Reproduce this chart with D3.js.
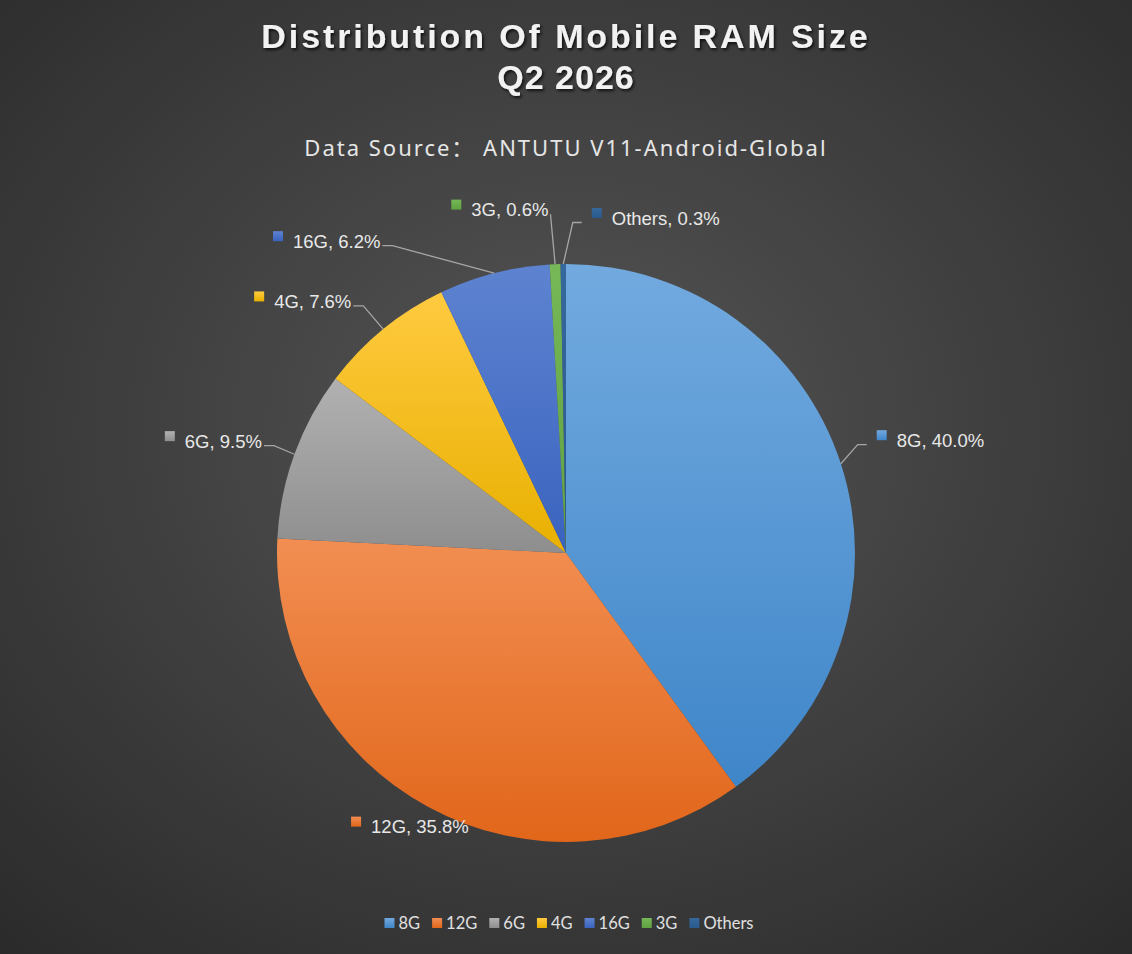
<!DOCTYPE html>
<html>
<head>
<meta charset="utf-8">
<script src="https://cdn.jsdelivr.net/npm/d3@7"></script>
<style>
  html, body { margin: 0; padding: 0; background: #333; }
  svg { display: block; }
</style>
</head>
<body>
<div id="grafico"></div>
<script>
// dados
const categorias = ["8G", "12G", "6G", "4G", "16G", "3G", "Others"];
const percentuais = [40.0, 35.8, 9.5, 7.6, 6.2, 0.6, 0.3];

// cores (topo / base do degradê de cada fatia)
const coresTopo = ["#72aadf", "#f28e52", "#b1b1b1", "#ffca40", "#5d83d0", "#76b758", "#35689d"];
const coresBase = ["#3f86c9", "#e1661a", "#8e8e8e", "#e8b000", "#3a63bf", "#5fa240", "#2a598d"];

// posição dos rótulos: ângulo (graus, horário a partir do topo) e raio relativo
const rotuloAngulo = [72.8, 209.7, 287.6, 313.7, 322.5, 349.1, 15.0];
const rotuloRaio = [1.32, 1.09, 1.28, 1.26, 1.36, 1.21, 1.20];

const largura = 1132, altura = 954;
const cx = 566, cy = 553, raio = 289;

const svg = d3.select("#grafico").append("svg")
  .attr("width", largura)
  .attr("height", altura);

const defs = svg.append("defs");

const fundo = defs.append("radialGradient")
  .attr("id", "fundo")
  .attr("cx", "50%").attr("cy", "45%").attr("r", "75%");
fundo.append("stop").attr("offset", "0%").attr("stop-color", "#555555");
fundo.append("stop").attr("offset", "100%").attr("stop-color", "#2a2a2a");

const sombra = defs.append("filter").attr("id", "sombra")
  .attr("x", "-10%").attr("y", "-30%").attr("width", "120%").attr("height", "160%");
sombra.append("feDropShadow")
  .attr("dx", 1.5).attr("dy", 2).attr("stdDeviation", 1.5)
  .attr("flood-color", "#000").attr("flood-opacity", 0.75);

categorias.forEach((c, i) => {
  const g = defs.append("linearGradient")
    .attr("id", "fatia" + i)
    .attr("x1", 0).attr("y1", 0).attr("x2", 0).attr("y2", 1);
  g.append("stop").attr("offset", "0%").attr("stop-color", coresTopo[i]);
  g.append("stop").attr("offset", "100%").attr("stop-color", coresBase[i]);
});

svg.append("rect")
  .attr("width", largura).attr("height", altura)
  .attr("fill", "url(#fundo)");

// títulos
const titulo = svg.append("text")
  .attr("x", cx).attr("text-anchor", "middle")
  .attr("font-family", "'Liberation Sans', Arial, sans-serif")
  .attr("font-weight", "bold").attr("font-size", 34)
  .attr("fill", "#f2f2f2")
  .attr("filter", "url(#sombra)");
titulo.append("tspan").attr("x", cx).attr("y", 48)
  .attr("letter-spacing", 2.9)
  .text("Distribution Of Mobile RAM Size");
titulo.append("tspan").attr("x", cx).attr("y", 89)
  .attr("letter-spacing", 1)
  .text("Q2 2026");

svg.append("text")
  .attr("x", cx).attr("y", 156)
  .attr("text-anchor", "middle")
  .attr("font-family", "'Noto Sans', 'Noto Sans CJK SC', sans-serif")
  .attr("font-size", 22)
  .attr("letter-spacing", 2)
  .attr("fill", "#e6e6e6")
  .text("Data Source： ANTUTU V11-Android-Global");

// pizza
const pizza = d3.pie().sort(null).value(d => d.valor);
const dados = categorias.map((c, i) => ({ nome: c, valor: percentuais[i], idx: i }));
const arcos = pizza(dados);
const arco = d3.arc().innerRadius(0).outerRadius(raio);

const gPizza = svg.append("g").attr("transform", `translate(${cx},${cy})`);
gPizza.selectAll("path")
  .data(arcos)
  .join("path")
  .attr("d", arco)
  .attr("fill", d => `url(#fatia${d.data.idx})`);

// rótulos
const gRotulos = svg.append("g").attr("transform", `translate(${cx},${cy})`);
const fmt = d3.format(".1f");

arcos.forEach(a => {
  const i = a.data.idx;
  const ang = rotuloAngulo[i] * Math.PI / 180;
  const lx = Math.sin(ang) * raio * rotuloRaio[i];
  const ly = -Math.cos(ang) * raio * rotuloRaio[i];

  const g = gRotulos.append("g");
  const txt = g.append("text")
    .attr("font-family", "'Liberation Sans', Arial, sans-serif")
    .attr("font-size", 18.5)
    .attr("fill", "#e8e8e8")
    .text(`${a.data.nome}, ${fmt(a.data.valor)}%`);
  const tw = txt.node().getComputedTextLength();
  const total = 10 + 10 + tw;
  const x0 = lx - total / 2;
  g.append("rect")
    .attr("x", x0).attr("y", ly - 10)
    .attr("width", 10).attr("height", 10)
    .attr("fill", `url(#fatia${i})`);
  txt.attr("x", x0 + 20).attr("y", ly + 6.5);

  // linha guia
  const meio = (a.startAngle + a.endAngle) / 2;
  const px = Math.sin(meio) * raio, py = -Math.cos(meio) * raio;
  if (Math.hypot(px - lx, py - ly) < 40) return;
  const yl = ly + 4.5;
  let ex, cot;
  if (px > lx) { ex = x0 + total + 2; cot = ex + 10; }
  else { ex = x0 - 10; cot = ex - 9; }
  const pontos = Math.abs(px - ex) < 15 ? [[px, py], [ex, yl]] : [[px, py], [cot, yl], [ex, yl]];
  gRotulos.append("path")
    .attr("d", d3.line()(pontos))
    .attr("fill", "none")
    .attr("stroke", "#a6a6a6")
    .attr("stroke-width", 1.3);
});

// legenda
const gLeg = svg.append("g");
let xl = 0;
categorias.forEach((c, i) => {
  const it = gLeg.append("g").attr("transform", `translate(${xl},0)`);
  it.append("rect").attr("x", 0).attr("y", -5).attr("width", 10).attr("height", 10)
    .attr("fill", `url(#fatia${i})`);
  const t = it.append("text")
    .attr("x", 14).attr("y", 6)
    .attr("font-family", "Lato, 'Open Sans', sans-serif")
    .attr("font-size", 16.5)
    .attr("fill", "#e0e0e0")
    .text(c);
  xl += 14 + t.node().getComputedTextLength() + 12;
});
const larguraLeg = xl - 12;
gLeg.attr("transform", `translate(${cx + 3 - larguraLeg / 2},923)`);
</script>
</body>
</html>
